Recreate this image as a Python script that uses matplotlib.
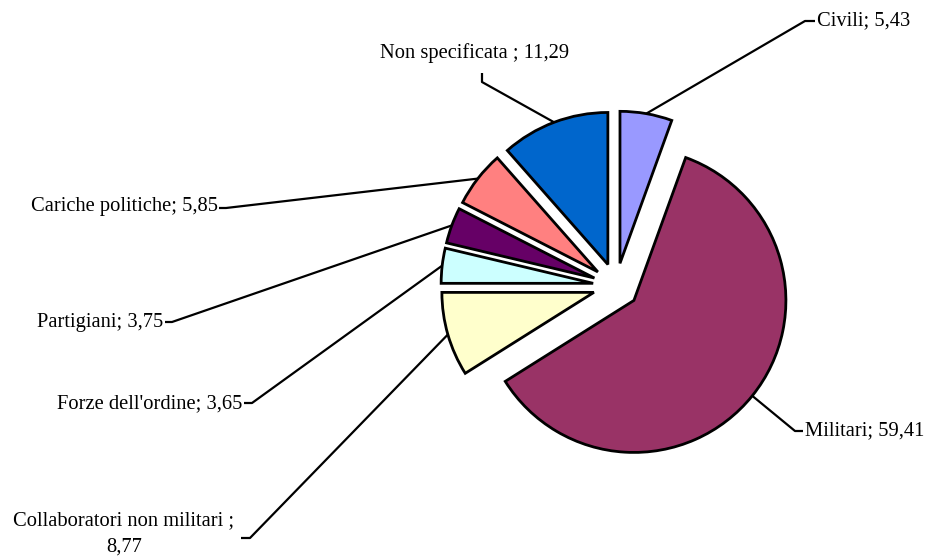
import numpy as np
import matplotlib
matplotlib.use("Agg")
import matplotlib.pyplot as plt

categories = ["Civili", "Militari", "Collaboratori non militari", "Forze dell'ordine",
              "Partigiani", "Cariche politiche", "Non specificata"]
values = [5.43, 59.41, 8.77, 3.65, 3.75, 5.85, 11.29]
value_labels = ["5,43", "59,41", "8,77", "3,65", "3,75", "5,85", "11,29"]
label_texts = ["Civili; 5,43", "Militari; 59,41", "Collaboratori non militari ;\n8,77",
               "Forze dell'ordine; 3,65", "Partigiani; 3,75", "Cariche politiche; 5,85",
               "Non specificata ; 11,29"]
colors = ["#9999FF", "#993366", "#FFFFCC", "#CCFFFF", "#660066", "#FF8080", "#0066CC"]

W, H = 930, 559
fig = plt.figure(figsize=(W / 100, H / 100), dpi=100)
ax = fig.add_axes([0, 0, 1, 1])

R = 152
cx, cy = 616, H - 286
EXPL = 23
wedges, _ = ax.pie(values, colors=colors, startangle=90, counterclock=False,
                   explode=[EXPL] * len(values), radius=R, center=(cx, cy),
                   wedgeprops=dict(edgecolor="black", linewidth=2.0, joinstyle="miter"),
                   frame=True)
ax.set_xlim(0, W)
ax.set_ylim(0, H)
ax.set_aspect("equal")
ax.axis("off")

# label layout (image pixel coords, y down): text anchor, ha, elbow points
layout = [
    dict(tx=817, ty=21, ha="left", elbow=[(805, 21), (815, 21)]),
    dict(tx=805, ty=431, ha="left", elbow=[(795, 431), (803, 431)]),
    dict(tx=124, ty=534, ha="center", elbow=[(250, 538), (241, 538)]),
    dict(tx=242, ty=404, ha="right", elbow=[(252, 403), (244, 403)]),
    dict(tx=163, ty=322, ha="right", elbow=[(172, 322), (165, 322)]),
    dict(tx=218, ty=207, ha="right", elbow=[(226, 208), (219, 208)]),
    dict(tx=475, ty=53, ha="center", elbow=[(482, 82), (482, 73)]),
]

font = dict(family=["Liberation Serif", "DejaVu Serif"], fontsize=14.8, color="black")
for w, txt, lay in zip(wedges, label_texts, layout):
    mid = np.deg2rad((w.theta1 + w.theta2) / 2)
    ax_, ay_ = w.center[0] + w.r * np.cos(mid), w.center[1] + w.r * np.sin(mid)
    xs = [ax_] + [p[0] for p in lay["elbow"]]
    ys = [ay_] + [H - p[1] for p in lay["elbow"]]
    ax.plot(xs, ys, color="black", lw=1.6, solid_capstyle="butt", zorder=0)
    ax.text(lay["tx"], H - lay["ty"], txt, ha=lay["ha"], va="center",
            multialignment="center", linespacing=1.5, **font)

fig.savefig("out.png", dpi=100)
